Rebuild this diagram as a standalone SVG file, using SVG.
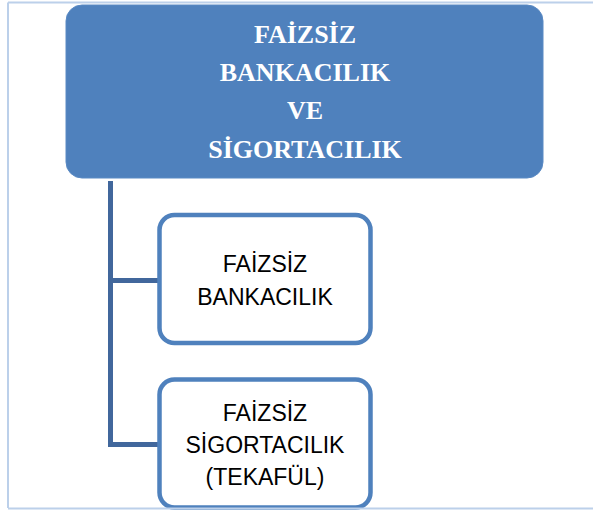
<svg xmlns="http://www.w3.org/2000/svg" width="593" height="510" viewBox="0 0 593 510">
<style>
.frame{stroke:#bcd0ea;stroke-width:2;fill:none}
.top{fill:#4f81bd;stroke:#5a8ac4;stroke-width:1}
.toptxt{font-family:"Liberation Serif",serif;font-weight:bold;font-size:26px;fill:#ffffff;text-anchor:middle}
.child{fill:#ffffff;stroke:#4f81bd;stroke-width:4.5}
.childtxt{font-family:"Liberation Sans",Arial,sans-serif;font-size:23px;fill:#000000;text-anchor:middle}
.conn{stroke:#41679c;stroke-width:5;fill:none}
</style>
<rect width="593" height="510" fill="#ffffff"/>
<g id="frame">
<line class="frame" x1="8" y1="2.5" x2="593" y2="2.5"/>
<line class="frame" x1="8" y1="2.5" x2="8" y2="508"/>
</g>
<g id="connectors">
<path class="conn" d="M110.5 181 V444.5 H160"/>
<path class="conn" d="M110.5 280.5 H160"/>
</g>
<g id="root">
<rect class="top" x="66" y="5" width="477" height="173" rx="16" ry="16"/>
<text class="toptxt" x="305" y="43">FAİZSİZ</text>
<text class="toptxt" x="305" y="81">BANKACILIK</text>
<text class="toptxt" x="305" y="119">VE</text>
<text class="toptxt" x="305" y="158">SİGORTACILIK</text>
</g>
<g id="bankacilik">
<rect class="child" x="159.5" y="215" width="211" height="128" rx="15" ry="15"/>
<text class="childtxt" x="265" y="272">FAİZSİZ</text>
<text class="childtxt" x="265" y="305">BANKACILIK</text>
</g>
<g id="sigortacilik">
<rect class="child" x="159.5" y="379.5" width="211" height="128" rx="15" ry="15"/>
<text class="childtxt" x="265" y="421">FAİZSİZ</text>
<text class="childtxt" x="265" y="453">SİGORTACILIK</text>
<text class="childtxt" x="265" y="485">(TEKAFÜL)</text>
</g>
<line class="frame" x1="8" y1="508.5" x2="593" y2="508.5"/>
</svg>
